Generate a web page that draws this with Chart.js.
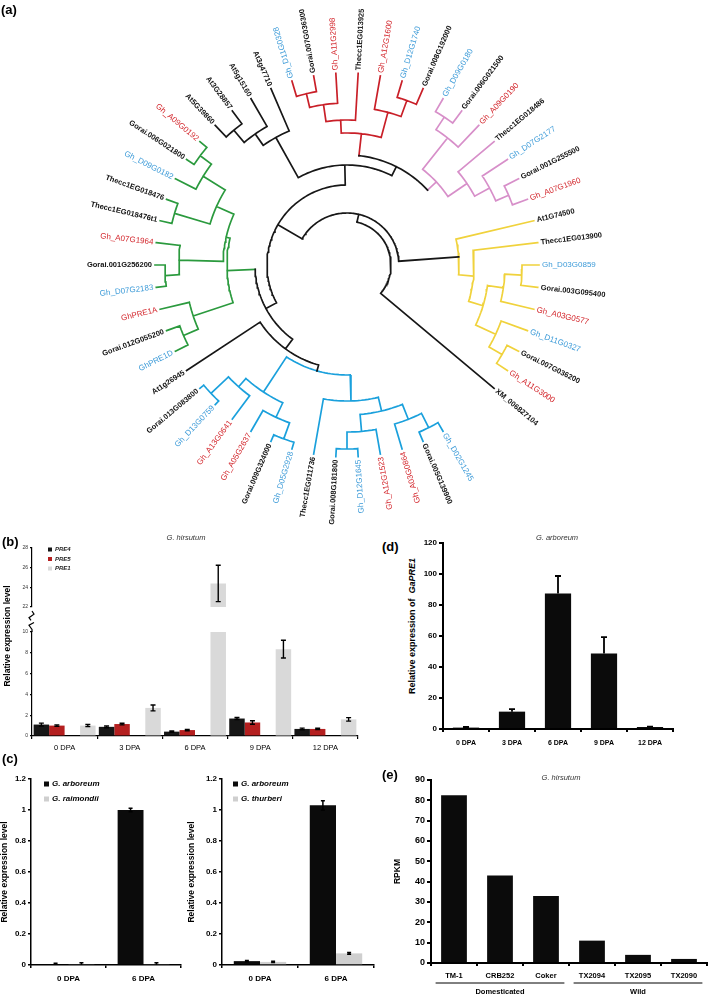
<!DOCTYPE html>
<html>
<head>
<meta charset="utf-8">
<script src="https://cdn.jsdelivr.net/npm/chart.js@4.4.1/dist/chart.umd.min.js"></script>
<style>
  html, body { margin: 0; padding: 0; background: #fff; }
  #fig { position: relative; width: 709px; height: 996px; overflow: hidden; font-family: 'Liberation Sans', Arial, sans-serif; }
  #fig canvas { position: absolute; }
  .txt { position: absolute; white-space: nowrap; line-height: 1; color: #000; }
  .lbl { font-weight: bold; font-size: 13px; }
  .sub { font-style: italic; font-size: 7.5px; color: #333; transform: translate(-50%, -50%); }
  .yt { font-weight: bold; transform: translate(-50%, -50%) rotate(-90deg); }
</style>
</head>
<body>
<div id="fig">
  <canvas id="tree"></canvas>
  <canvas id="bHigh"></canvas>
  <canvas id="bLow"></canvas>
  <canvas id="c1"></canvas>
  <canvas id="c2"></canvas>
  <canvas id="d"></canvas>
  <canvas id="e"></canvas>
  <div class="txt lbl" style="left:1px;top:3px">(a)</div>
  <div class="txt lbl" style="left:2px;top:535px">(b)</div>
  <div class="txt lbl" style="left:2px;top:752px">(c)</div>
  <div class="txt lbl" style="left:382px;top:540px">(d)</div>
  <div class="txt lbl" style="left:382px;top:768px">(e)</div>
  <div class="txt sub" style="left:186px;top:538px">G. hirsutum</div>
  <div class="txt sub" style="left:557px;top:538px">G. arboreum</div>
  <div class="txt sub" style="left:561px;top:778px">G. hirsutum</div>
  <div class="txt yt" style="left:7px;top:636px;font-size:8.5px">Relative expression level</div>
  <div class="txt yt" style="left:412px;top:626px;font-size:9px">Relative expression of&nbsp;&nbsp;<i>GaPRE1</i></div>
</div>
<script>
// ---- (a) tree: newick-ish, internal node label = radius of the node (tips sit at TIP_R) ----
const CLADE_BLUE = '(((((Gh_D02G1245,Gorai.005G139900)182,Gh_A03G0864)166,(Gh_A12G1523,(Gh_D12G1645,Gorai.008G181800)184)167)150,Thecc1EG011736)136,(((Gh_D05G2928,Gorai.009G324000)185,Gh_A05G2637)168,(Gh_A13G0641,(Gh_D13G0759,Gorai.013G083800)187)163)152)110/blue';
const CLADE_GREEN = '(((GhPRE1D,Gorai.012G055200)178,GhPRE1A)162,(((Gh_D07G2183,Gorai.001G256200)182,Gh_A07G1964)168,((Thecc1EG018476t1,Thecc1EG018476)180,(Gh_D09G0182,(Gorai.006G021800,Gh_A09G0192)183)169)143)124)120/green';
const CLADE_AT = '(((At5G39860,At3G28857)176,At5g15160)160,At3g47710)146';
const CLADE_RED = '((((Gh_D11G0328,Gorai.007G036300)176,Gh_A11G2998)162,Thecc1EG013925)145,(Gh_A12G1600,(Gh_D12G1740,Gorai.008G192000)175)158)132/red';
const CLADE_PINK = '(((Gh_D09G0180,Gorai.006G021500)177,Gh_A09G0190)162,(Thecc1EG018486,(Gh_D07G2177,(Gorai.001G255500,Gh_A07G1960)176)162)145)122/pink';
const CLADE_YELLOW = '(At1G74500,(Thecc1EG013900,(((Gh_D03G0859,Gorai.003G095400)175,Gh_A03G0577)158,(Gh_D11G0327,(Gorai.007G036200,Gh_A11G3000)179)164)142)127)112/yellow';
const TREE = `(((((${CLADE_BLUE},At1g26945)104,${CLADE_GREEN})92,(${CLADE_AT},(${CLADE_RED},${CLADE_PINK})110)100)80,${CLADE_YELLOW})52,XM_006827104)44`;
const BLACK_STEMS = ['yellow', 'blue'];

// ---- (b) G. hirsutum ----
const B_CATS = ['0 DPA', '3 DPA', '6 DPA', '9 DPA', '12 DPA'];
const B_PRE4 = [1.1, 0.88, 0.42, 1.68, 0.68];
const B_PRE4_ERR = [0.14, 0.08, 0.06, 0.1, 0.08];
const B_PRE5 = [1.0, 1.15, 0.57, 1.3, 0.68];
const B_PRE5_ERR = [0.07, 0.08, 0.07, 0.17, 0.07];
const B_PRE1 = [1.0, 2.7, 24.4, 8.35, 1.6];
const B_PRE1_ERR = [0.1, 0.28, 1.85, 0.85, 0.17];

// ---- (c) ----
const C_CATS = ['0 DPA', '6 DPA'];
const C1_ARB = [0.005, 1.0];
const C1_ARB_ERR = [0.006, 0.012];
const C1_RAI = [0.004, 0.004];
const C1_RAI_ERR = [0.01, 0.01];
const C2_ARB = [0.025, 1.03];
const C2_ARB_ERR = [0.004, 0.03];
const C2_THU = [0.02, 0.075];
const C2_THU_ERR = [0.004, 0.005];

// ---- (d) G. arboreum ----
const D_CATS = ['0 DPA', '3 DPA', '6 DPA', '9 DPA', '12 DPA'];
const D_VALUES = [0.9, 11.2, 87.5, 48.7, 1.3];
const D_ERR = [0.4, 1.6, 11.2, 10.6, 0.2];

// ---- (e) G. hirsutum RPKM ----
const E_CATS = ['TM-1', 'CRB252', 'Coker', 'TX2094', 'TX2095', 'TX2090'];
const E_RPKM = [82.5, 43, 33, 11, 4, 2];
const E_GROUP_NAMES = ['Domesticated', 'Wild'];
const E_GROUP_FIRST = [0, 3];
const E_GROUP_LAST = [2, 5];

// ---- layout ----
const FONT = "'Liberation Sans', Arial, sans-serif";
const TREE_CENTER = [347, 265];
const TIP_R = 192;
const LEAF_START = 60;      // angle of first leaf (deg, clockwise from east)
const LEAF_SLOTS = 54;      // 52 leaves + gap before the blue clade
const LABEL_TURN = 250;     // labels read outward between 250 and 430 deg

const CLADE_COLOR = { black: '#171717', red: '#c91f28', pink: '#d78fc9', yellow: '#f0d23c', blue: '#1aa0dc', green: '#2b9a3e' };
const LABEL_COLOR = { A: '#d3262c', D: '#3d9bd8', other: '#111' };

Chart.defaults.font.family = FONT;
Chart.defaults.color = '#000';
Chart.defaults.animation = false;
Chart.defaults.responsive = false;
Chart.defaults.events = [];
Chart.defaults.plugins.legend.display = false;
Chart.defaults.plugins.tooltip.enabled = false;

function place(id, box) {
  const c = document.getElementById(id);
  c.width = box.w; c.height = box.h;
  c.style.left = box.x + 'px'; c.style.top = box.y + 'px';
  c.style.width = box.w + 'px'; c.style.height = box.h + 'px';
  return c;
}

// ---------- tree ----------
function parseTree(s) {
  let i = 0;
  const label = () => { const j = i; while (i < s.length && !',()'.includes(s[i])) i++; return s.slice(j, i); };
  function node() {
    if (s[i] === '(') {
      i++;
      const kids = [node()];
      while (s[i] === ',') { i++; kids.push(node()); }
      i++;
      const [r, clade] = label().split('/');
      return { kids, r: +r, clade };
    }
    return { name: label() };
  }
  return node();
}

const root = parseTree(TREE);
const leaves = [];
const STEP = 360 / LEAF_SLOTS;
function layout(n, color) {
  n.color = n.clade || color;
  if (!n.kids) { n.a = LEAF_START + STEP * leaves.length; n.r = TIP_R; leaves.push(n); return; }
  n.kids.forEach(k => layout(k, n.color));
  n.a = (n.kids[0].a + n.kids[n.kids.length - 1].a) / 2;
}
layout(root, 'black');

const polar = (r, a) => ({ x: r * Math.cos(a * Math.PI / 180), y: r * Math.sin(a * Math.PI / 180) });
const segs = {};
function addSeg(color, pts) { (segs[color] = segs[color] || []).push(pts); }
function collect(n) {
  if (!n.kids) return;
  const a0 = n.kids[0].a, a1 = n.kids[n.kids.length - 1].a;
  const steps = Math.max(2, Math.ceil((a1 - a0) / 1.5));
  const arc = [];
  for (let i = 0; i <= steps; i++) arc.push(polar(n.r, a0 + (a1 - a0) * i / steps));
  addSeg(n.color, arc);
  n.kids.forEach(k => {
    const stem = BLACK_STEMS.includes(k.clade) ? n.color : k.color;
    addSeg(stem, [polar(n.r, k.a), polar(k.r, k.a)]);
    collect(k);
  });
}
collect(root);

const treeSets = Object.entries(segs).map(([color, list]) => ({
  data: list.flatMap(p => [...p, { x: NaN, y: NaN }]),
  showLine: true, spanGaps: false, borderColor: CLADE_COLOR[color], borderWidth: 1.7,
  pointRadius: 0, borderCapStyle: 'square'
}));

function subgenome(name) {
  if (/^Gh(_A|PRE1A)/.test(name)) return 'A';
  if (/^Gh(_D|PRE1D)/.test(name)) return 'D';
  return 'other';
}

const leafLabels = {
  id: 'leafLabels',
  afterDatasetsDraw(chart) {
    const { ctx, scales: { x, y } } = chart;
    ctx.save();
    ctx.textBaseline = 'middle';
    leaves.forEach(l => {
      const p = polar(TIP_R + 3, l.a);
      const outward = (((l.a - LABEL_TURN) % 360) + 360) % 360 < 180;
      const g = subgenome(l.name);
      ctx.save();
      ctx.translate(x.getPixelForValue(p.x), y.getPixelForValue(p.y));
      ctx.rotate((outward ? l.a : l.a + 180) * Math.PI / 180);
      ctx.textAlign = outward ? 'left' : 'right';
      ctx.font = g === 'other' ? `bold 7.5px ${FONT}` : `8px ${FONT}`;
      ctx.fillStyle = LABEL_COLOR[g];
      ctx.fillText(l.name, 0, 0);
      ctx.restore();
    });
    ctx.restore();
  }
};

const treeBox = { x: 0, y: 0, w: 709, h: 532 };
new Chart(place('tree', treeBox), {
  type: 'scatter',
  data: { datasets: treeSets },
  options: {
    layout: { padding: 0 },
    scales: {
      x: { type: 'linear', display: false, min: -TREE_CENTER[0], max: treeBox.w - TREE_CENTER[0] },
      y: { type: 'linear', display: false, reverse: true, min: -TREE_CENTER[1], max: treeBox.h - TREE_CENTER[1] }
    }
  },
  plugins: [leafLabels]
});

// ---------- bar chart helpers ----------
const errorBars = {
  id: 'errorBars',
  afterDatasetsDraw(chart, args, o) {
    if (!o.cap) return;
    const { ctx, chartArea: a, scales: { y } } = chart;
    ctx.save();
    ctx.beginPath(); ctx.rect(a.left, a.top - 1, a.right - a.left, a.bottom - a.top + 1); ctx.clip();
    ctx.strokeStyle = '#000'; ctx.lineWidth = o.width;
    chart.data.datasets.forEach((ds, i) => {
      if (!ds.errors) return;
      chart.getDatasetMeta(i).data.forEach((bar, j) => {
        const v = ds.data[j], e = ds.errors[j];
        if (v == null || e == null) return;
        const top = y.getPixelForValue(v + e);
        const bot = y.getPixelForValue(o.upOnly ? v : v - e);
        ctx.beginPath();
        ctx.moveTo(bar.x, top); ctx.lineTo(bar.x, bot);
        ctx.moveTo(bar.x - o.cap / 2, top); ctx.lineTo(bar.x + o.cap / 2, top);
        if (!o.upOnly) { ctx.moveTo(bar.x - o.cap / 2, bot); ctx.lineTo(bar.x + o.cap / 2, bot); }
        ctx.stroke();
      });
    });
    ctx.restore();
  }
};

const miniLegend = {
  id: 'miniLegend',
  afterDraw(chart, args, o) {
    if (o.dx === undefined) return;
    const { ctx, chartArea: a } = chart;
    ctx.save();
    ctx.font = o.textFont; ctx.textBaseline = 'middle'; ctx.textAlign = 'left';
    let k = 0;
    chart.data.datasets.forEach(ds => {
      if (!ds.label) return;
      const cy = a.top + o.dy + k * o.gap;
      ctx.fillStyle = ds.backgroundColor;
      ctx.fillRect(a.left + o.dx, cy - o.box / 2, o.box, o.box);
      ctx.fillStyle = o.textColor;
      ctx.fillText(ds.label, a.left + o.dx + o.box + o.textGap, cy);
      k++;
    });
    ctx.restore();
  }
};

const groupLines = {
  id: 'groupLines',
  afterDraw(chart, args, o) {
    if (!o.names) return;
    const { ctx, chartArea: a, scales: { x } } = chart;
    const w = x.getPixelForValue(1) - x.getPixelForValue(0);
    ctx.save();
    ctx.strokeStyle = '#000'; ctx.lineWidth = 1; ctx.fillStyle = '#000';
    ctx.font = o.textFont; ctx.textAlign = 'center'; ctx.textBaseline = 'middle';
    o.names.forEach((name, i) => {
      const x0 = x.getPixelForValue(o.first[i]) - w * o.overhang;
      const x1 = x.getPixelForValue(o.last[i]) + w * o.overhang;
      ctx.beginPath(); ctx.moveTo(x0, a.bottom + o.lineGap); ctx.lineTo(x1, a.bottom + o.lineGap); ctx.stroke();
      ctx.fillText(name, (x0 + x1) / 2, a.bottom + o.textGap);
    });
    ctx.restore();
  }
};

const axisBreak = {
  id: 'axisBreak',
  afterDraw(chart, args, o) {
    if (!o.height) return;
    const { ctx, chartArea: a } = chart;
    const L = a.left, T = a.top, h = o.height;
    ctx.save();
    ctx.strokeStyle = '#000'; ctx.lineWidth = 1.2;
    ctx.beginPath();
    ctx.moveTo(L, T); ctx.lineTo(L, T - h * 0.12);
    ctx.lineTo(L - 3, T - h * 0.32); ctx.lineTo(L + 2, T - h * 0.45);
    ctx.moveTo(L - 1, T - h * 0.55);
    ctx.lineTo(L - 3, T - h * 0.68); ctx.lineTo(L + 2, T - h * 0.85);
    ctx.lineTo(L, T - h);
    ctx.stroke();
    ctx.restore();
  }
};

const plainNumber = v => String(+Number(v).toFixed(2));

function barChart(id, box, area, labels, datasets, o) {
  const xHidden = !!o.xHidden;
  return new Chart(place(id, box), {
    type: 'bar',
    data: { labels, datasets },
    options: {
      layout: { padding: { left: 0, top: area.t - box.y, right: box.x + box.w - area.r, bottom: xHidden ? box.y + box.h - area.b : 0 } },
      datasets: { bar: { categoryPercentage: o.cp, barPercentage: o.bp } },
      scales: {
        x: {
          display: !xHidden,
          grid: { display: true, drawOnChartArea: false, offset: true, tickLength: 3, color: '#000', lineWidth: o.lw },
          border: { display: true, color: '#000', width: o.lw },
          ticks: { font: o.xFont, color: '#000', padding: o.xPad, maxRotation: 0, autoSkip: false },
          afterFit: s => { s.height = box.y + box.h - area.b; }
        },
        y: {
          min: o.yMin, max: o.yMax,
          grid: { display: true, drawOnChartArea: false, tickLength: o.yTick, color: '#000', lineWidth: o.lw },
          border: { display: true, color: '#000', width: o.lw },
          ticks: { stepSize: o.yStep, font: o.yFont, color: o.yColor || '#000', padding: 2, callback: plainNumber },
          title: o.yTitle ? { display: true, text: o.yTitle, font: { size: 8.5, weight: 'bold' }, padding: 0, color: '#000' } : { display: false },
          afterFit: s => { s.width = area.l - box.x; }
        }
      },
      plugins: o.plugins || {}
    },
    plugins: [errorBars, miniLegend, groupLines, axisBreak]
  });
}

// ---------- (b) broken axis: two stacked charts ----------
const bSets = () => [
  { label: 'PRE4', data: [...B_PRE4], errors: B_PRE4_ERR, backgroundColor: '#161616' },
  { label: 'PRE5', data: [...B_PRE5], errors: B_PRE5_ERR, backgroundColor: '#b41f1f' },
  { data: B_CATS.map(() => null) },
  { label: 'PRE1', data: [...B_PRE1], errors: B_PRE1_ERR, backgroundColor: '#d9d9d9' }
];
const bCommon = { cp: 0.95, bp: 1, lw: 1.2, yTick: 2, yStep: 2, yFont: { size: 5 }, yColor: '#333', xFont: { size: 7.5 }, xPad: 4 };

barChart('bHigh', { x: 0, y: 540, w: 365, h: 75 }, { l: 32, t: 548, r: 358, b: 611 }, B_CATS, bSets(),
  { ...bCommon, xHidden: true, yMin: 22, yMax: 28,
    plugins: { errorBars: { cap: 5, width: 1.4 },
      miniLegend: { dx: 16, dy: 1.5, gap: 9.5, box: 4, textGap: 3, textFont: `bold italic 6px ${FONT}`, textColor: '#222' } } });

barChart('bLow', { x: 0, y: 605, w: 365, h: 150 }, { l: 32, t: 632, r: 358, b: 736 }, B_CATS, bSets(),
  { ...bCommon, yMin: 0, yMax: 10,
    plugins: { errorBars: { cap: 5, width: 1.4 }, axisBreak: { height: 21 } } });

// ---------- (c) ----------
const cCommon = { cp: 0.69, bp: 1, lw: 1.5, yTick: 3, yStep: 0.2, yMin: 0, yMax: 1.2,
  yFont: { size: 8, weight: 'bold' }, xFont: { size: 8, weight: 'bold' }, xPad: 6, yTitle: 'Relative expression level' };
const cLegend = dx => ({ dx, dy: 5, gap: 15, box: 5, textGap: 3, textFont: `bold italic 8px ${FONT}`, textColor: '#000' });

barChart('c1', { x: 0, y: 770, w: 186, h: 226 }, { l: 31, t: 779, r: 181, b: 965 }, C_CATS, [
  { label: 'G. arboreum', data: C1_ARB, errors: C1_ARB_ERR, backgroundColor: '#0b0b0b' },
  { label: 'G. raimondii', data: C1_RAI, errors: C1_RAI_ERR, backgroundColor: '#cfcfcf' }
], { ...cCommon, plugins: { errorBars: { cap: 4, width: 1.5 }, miniLegend: cLegend(13) } });

barChart('c2', { x: 187, y: 770, w: 192, h: 226 }, { l: 222, t: 779, r: 374, b: 965 }, C_CATS, [
  { label: 'G. arboreum', data: C2_ARB, errors: C2_ARB_ERR, backgroundColor: '#0b0b0b' },
  { label: 'G. thurberi', data: C2_THU, errors: C2_THU_ERR, backgroundColor: '#cfcfcf' }
], { ...cCommon, plugins: { errorBars: { cap: 4, width: 1.5 }, miniLegend: cLegend(11) } });

// ---------- (d) ----------
barChart('d', { x: 420, y: 535, w: 289, h: 225 }, { l: 443, t: 543, r: 673, b: 729 }, D_CATS, [
  { data: D_VALUES, errors: D_ERR, backgroundColor: '#0b0b0b' }
], { cp: 1, bp: 0.57, lw: 2, yTick: 4, yStep: 20, yMin: 0, yMax: 120,
  yFont: { size: 8, weight: 'bold' }, xFont: { size: 7, weight: 'bold' }, xPad: 7,
  plugins: { errorBars: { cap: 6, width: 1.8, upOnly: true } } });

// ---------- (e) ----------
barChart('e', { x: 393, y: 770, w: 316, h: 226 }, { l: 431, t: 780, r: 707, b: 963 }, E_CATS, [
  { data: E_RPKM, backgroundColor: '#0b0b0b' }
], { cp: 1, bp: 0.56, lw: 2, yTick: 4, yStep: 10, yMin: 0, yMax: 90,
  yFont: { size: 9, weight: 'bold' }, xFont: { size: 7.5, weight: 'bold' }, xPad: 5, yTitle: 'RPKM',
  plugins: { groupLines: { names: E_GROUP_NAMES, first: E_GROUP_FIRST, last: E_GROUP_LAST, overhang: 0.4,
    lineGap: 20, textGap: 29, textFont: `bold 7.5px ${FONT}` } } });
</script>
</body>
</html>
